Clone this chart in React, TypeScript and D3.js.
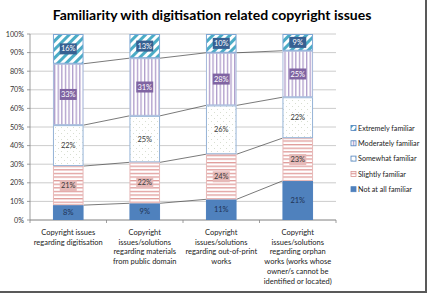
import React from 'react'
import * as d3 from 'd3'

// survey answers, % of respondents per copyright topic
const categories = [
  ['Copyright issues', 'regarding digitisation'],
  ['Copyright', 'issues/solutions', 'regarding materials', 'from public domain'],
  ['Copyright', 'issues/solutions', 'regarding out-of-print', 'works'],
  ['Copyright', 'issues/solutions', 'regarding orphan', 'works (works whose', 'owner/s cannot be', 'identified or located)']
]
const seriesNames = ['Not at all familiar', 'Slightly familiar', 'Somewhat familiar', 'Moderately familiar', 'Extremely familiar']
const notAtAll = [8, 9, 11, 21]
const slightly = [21, 22, 24, 23]
const somewhat = [22, 25, 26, 22]
const moderately = [33, 31, 28, 25]
const extremely = [16, 13, 10, 9]
const yTicks = [0, 0.1, 0.2, 0.3, 0.4, 0.5, 0.6, 0.7, 0.8, 0.9, 1]

const seriesValues = [notAtAll, slightly, somewhat, moderately, extremely]

const styles = [
  { fill: '#4F81BD', stroke: '#4F81BD', box: null, text: '#1F3355' },
  { fill: 'url(#hstripe)', stroke: '#E6B9B8', box: '#E6B9B8', text: '#3A3A3A' },
  { fill: 'url(#dots)', stroke: '#95B3D7', box: null, text: '#3A3A3A' },
  { fill: 'url(#vstripe)', stroke: '#A6B9DB', box: '#8064A2', text: '#FFFFFF' },
  { fill: 'url(#dstripe)', stroke: '#7EA6D4', box: '#376092', text: '#FFFFFF' }
]

const font = 'Lato, "Open Sans", sans-serif'

const margin = { top: 34, left: 30, right: 93, bottom: 75 }
const width = 429
const height = 295

export default function App () {
  const innerW = width - margin.left - margin.right
  const innerH = height - margin.top - margin.bottom

  const rows = categories.map((c, i) => {
    const row: any = { idx: i }
    seriesNames.forEach((s, j) => { row[s] = seriesValues[j][i] })
    return row
  })
  const stacked = d3.stack<any>().keys(seriesNames).offset(d3.stackOffsetExpand)(rows)

  const x = d3.scaleBand<number>()
    .domain(categories.map((c, i) => i))
    .range([margin.left, margin.left + innerW])
    .paddingInner(0.6)
    .paddingOuter(0.3)
  const y = d3.scaleLinear().domain([0, 1]).range([margin.top + innerH, margin.top])
  const bw = x.bandwidth()
  const step = innerW / categories.length

  return (
    <svg width={width} height={height} style={{ position: 'absolute', left: 0, top: 0, background: '#fff' }}>
      <defs>
        <pattern id='hstripe' width='4' height='3.6' patternUnits='userSpaceOnUse'>
          <rect width='4' height='3.6' fill='#fff' />
          <rect y='0' width='4' height='1.3' fill='#E09C9A' />
        </pattern>
        <pattern id='vstripe' width='3.6' height='4' patternUnits='userSpaceOnUse'>
          <rect width='3.6' height='4' fill='#fff' />
          <rect x='0' width='1.3' height='4' fill='#B09DCB' />
        </pattern>
        <pattern id='dots' width='6' height='6' patternUnits='userSpaceOnUse'>
          <rect width='6' height='6' fill='#fff' />
          <rect x='1' y='1' width='0.8' height='0.8' fill='#C2CCB8' />
          <rect x='4' y='4' width='0.8' height='0.8' fill='#C2CCB8' />
        </pattern>
        <pattern id='dstripe' width='6' height='6' patternUnits='userSpaceOnUse' patternTransform='rotate(45)'>
          <rect width='6' height='6' fill='#fff' />
          <rect width='3' height='6' fill='#4BACC6' />
        </pattern>
      </defs>

      <text x={212} y={20} textAnchor='middle' fontFamily={font} fontWeight='bold' fontSize={14} fill='#000'>
        Familiarity with digitisation related copyright issues
      </text>

      {/* gridlines + y axis */}
      {yTicks.map(t => (
        <g key={t}>
          <line x1={margin.left} x2={margin.left + innerW} y1={y(t)} y2={y(t)} stroke='#BFBFBF' strokeWidth={0.8} />
          <line x1={margin.left - 3} x2={margin.left} y1={y(t)} y2={y(t)} stroke='#868686' strokeWidth={0.8} />
          <text x={margin.left - 6} y={y(t) + 2.5} textAnchor='end' fontFamily={font} fontSize={7.2} fill='#333'>
            {d3.format('.0%')(t)}
          </text>
        </g>
      ))}
      <line x1={margin.left} x2={margin.left} y1={margin.top} y2={margin.top + innerH} stroke='#868686' strokeWidth={0.8} />
      <line x1={margin.left} x2={margin.left + innerW} y1={y(0)} y2={y(0)} stroke='#868686' strokeWidth={0.8} />
      {d3.range(categories.length + 1).map(i => (
        <line key={i} x1={margin.left + i * step} x2={margin.left + i * step} y1={y(0)} y2={y(0) + 3} stroke='#868686' strokeWidth={0.8} />
      ))}

      {/* series lines between neighbouring bars */}
      {stacked.slice(0, -1).map(s => s.slice(0, -1).map((d, i) => (
        <line key={s.key + i} x1={x(i)! + bw} x2={x(i + 1)!} y1={y(d[1])} y2={y(s[i + 1][1])} stroke='#404040' strokeWidth={0.7} />
      )))}

      {/* stacked bars */}
      {stacked.map((s, j) => s.map((d, i) => (
        <rect key={s.key + i} x={x(i)! + 0.5} y={y(d[1]) + 0.5} width={bw - 1} height={y(d[0]) - y(d[1]) - 1}
          fill={styles[j].fill} stroke={styles[j].stroke} strokeWidth={1} />
      )))}

      {/* value labels */}
      {stacked.map((s, j) => s.map((d, i) => {
        const cx = x(i)! + bw / 2
        const cy = (y(d[0]) + y(d[1])) / 2
        const label = seriesValues[j][i] + '%'
        const st = styles[j]
        return (
          <g key={s.key + 'l' + i}>
            {st.box && <rect x={cx - 8.5} y={cy - 5.5} width={17} height={11} fill={st.box} />}
            <text x={cx} y={cy + 2.6} textAnchor='middle' fontFamily={font} fontSize={7.5} fill={st.text}>{label}</text>
          </g>
        )
      }))}

      {/* category labels */}
      {categories.map((lines, i) => (
        <text key={i} x={x(i)! + bw / 2} y={y(0) + 15} textAnchor='middle' fontFamily={font} fontSize={7.5} fill='#222'>
          {lines.map((l, k) => <tspan key={k} x={x(i)! + bw / 2} dy={k === 0 ? 0 : 9.7}>{l}</tspan>)}
        </text>
      ))}

      {/* legend, top entry is the last series */}
      {seriesNames.slice().reverse().map((name, k) => {
        const j = seriesNames.length - 1 - k
        const ly = 128 + k * 15.3
        return (
          <g key={name}>
            <rect x={351} y={ly - 2.5} width={5} height={5} fill={styles[j].fill} stroke={j === 1 ? '#D99694' : '#4F81BD'} strokeWidth={0.8} />
            <text x={358} y={ly + 2.6} fontFamily={font} fontSize={7.2} fill='#222'>{name}</text>
          </g>
        )
      })}

      <rect x={-1} y={-1} width={427} height={293} fill='none' stroke='#595959' strokeWidth={2} />
    </svg>
  )
}
